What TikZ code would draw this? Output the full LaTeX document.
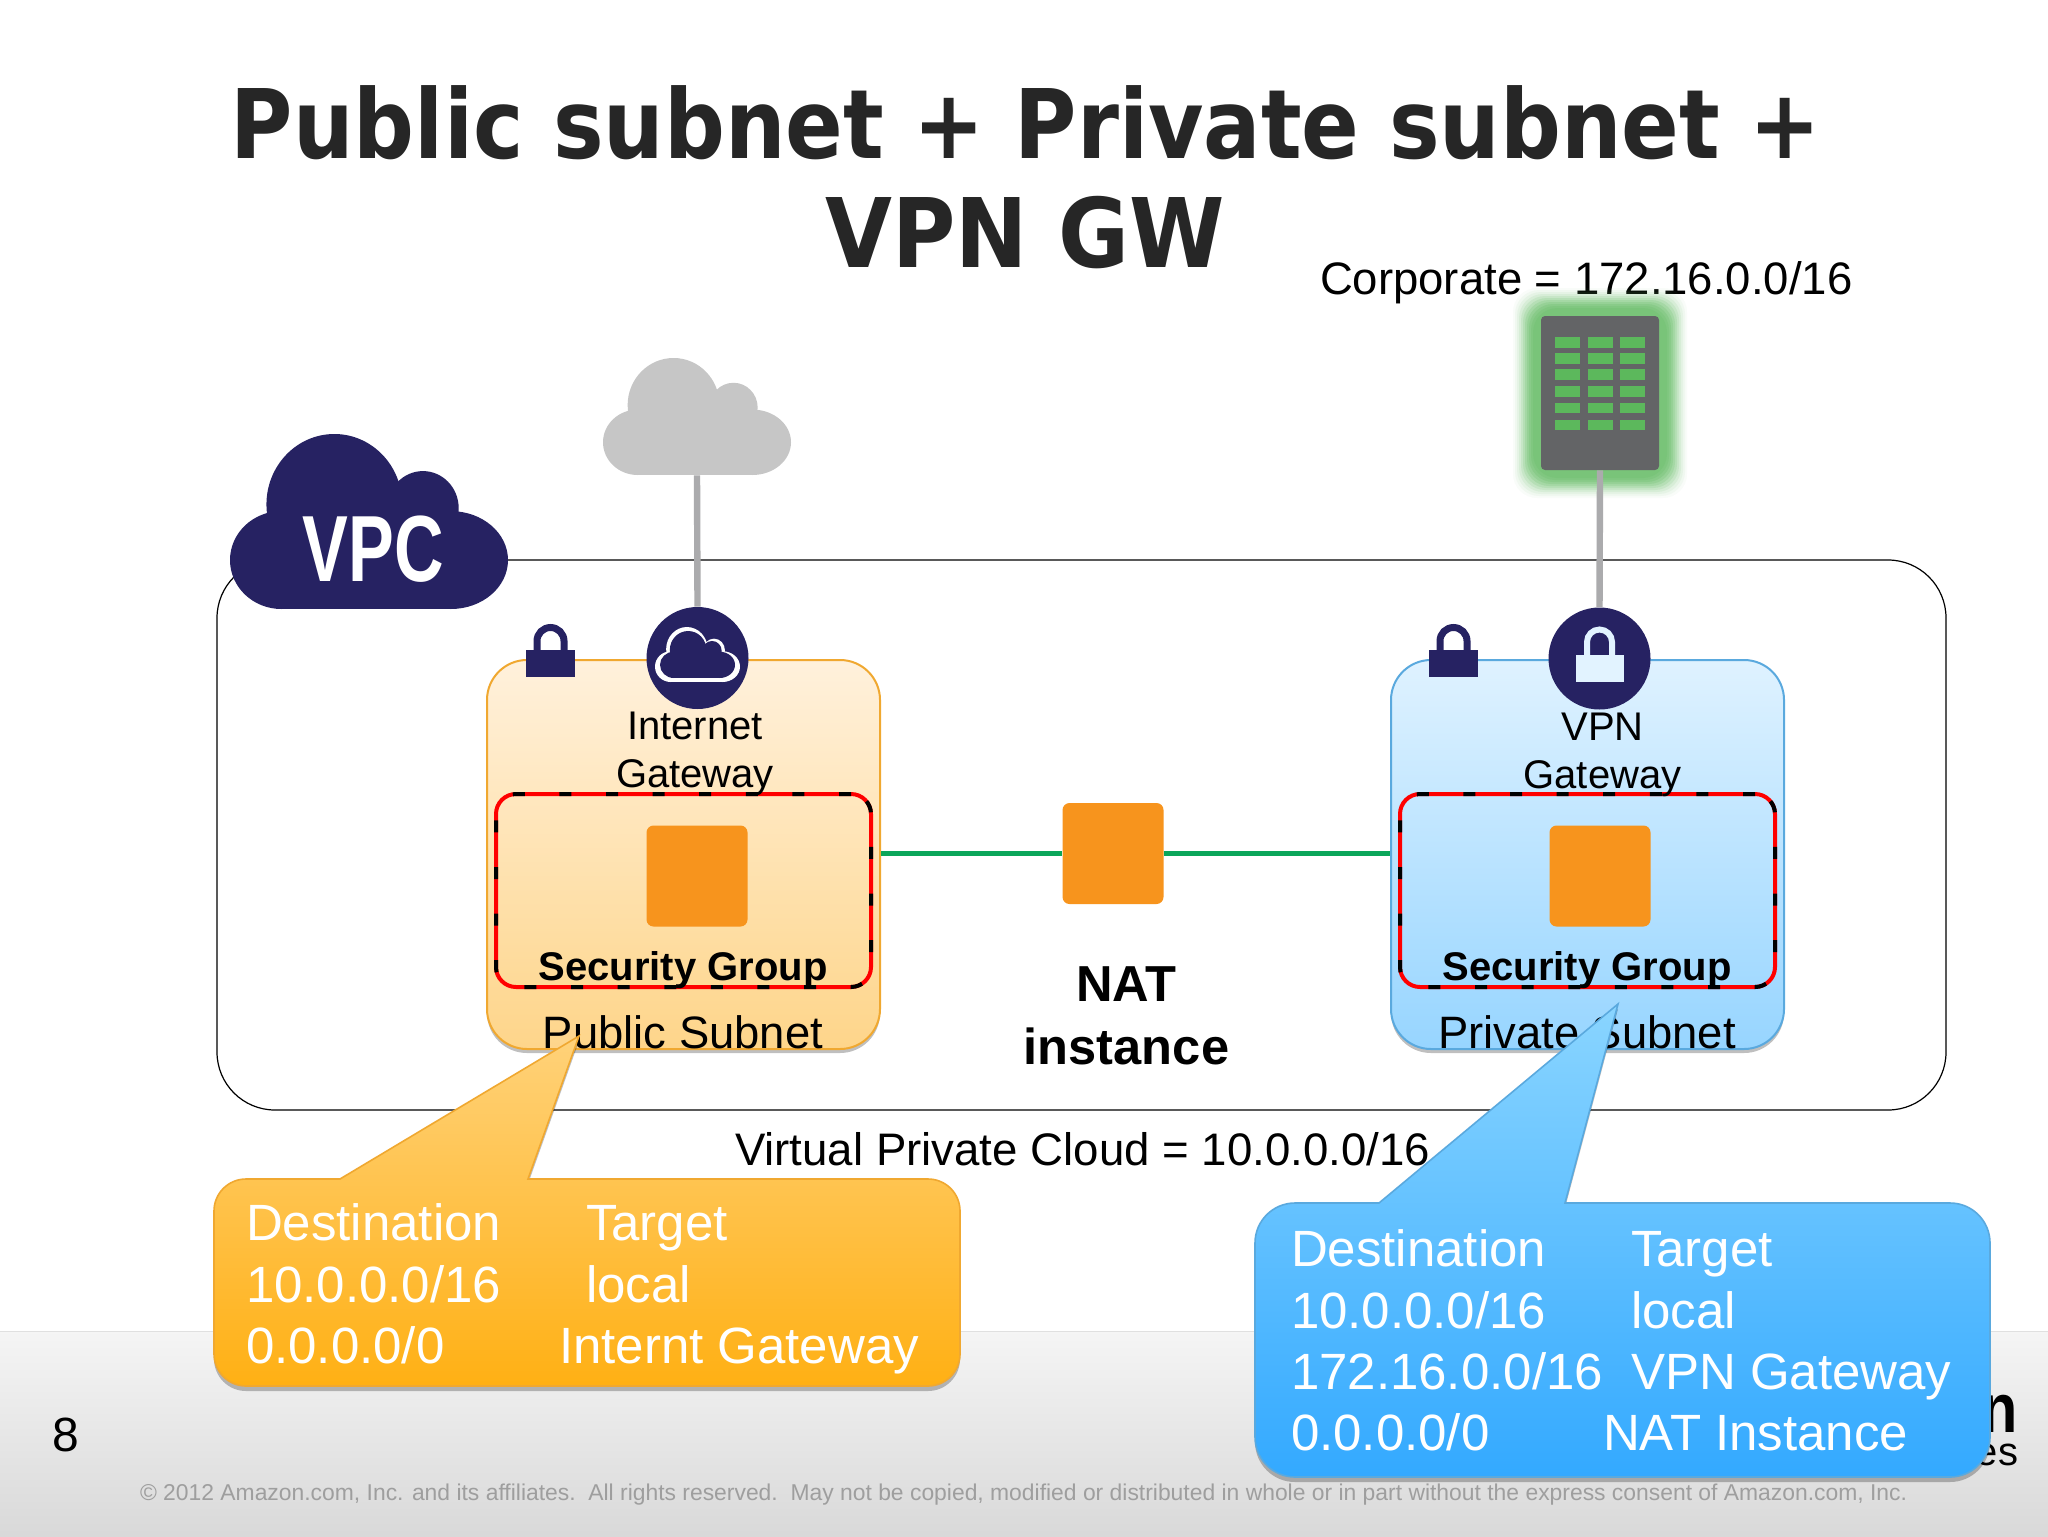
\documentclass[tikz,border=0pt]{standalone}
\usepackage{fontspec}
\usepackage{graphicx}
\usetikzlibrary{shadows}
\setmainfont{Liberation Sans}
\newfontfamily\titlefont{DejaVu Sans}
\definecolor{navy}{HTML}{262262}
\definecolor{inst}{HTML}{F7941D}
\definecolor{greyline}{HTML}{ABABAD}
\definecolor{cloudgrey}{HTML}{C6C6C6}
\definecolor{linkgreen}{HTML}{0BA65A}
\definecolor{led}{HTML}{5CB85C}
\definecolor{glow}{HTML}{6CC06C}
\definecolor{srvgrey}{HTML}{636466}
\definecolor{pubtop}{HTML}{FFF1DC}
\definecolor{pubbot}{HTML}{FED58A}
\definecolor{pubedge}{HTML}{F0A830}
\definecolor{prvtop}{HTML}{DFF2FF}
\definecolor{prvbot}{HTML}{97D5FF}
\definecolor{prvedge}{HTML}{5AA9DE}
\definecolor{ortop}{HTML}{FFD27A}
\definecolor{orbot}{HTML}{FFB014}
\definecolor{bltop}{HTML}{8AD5FF}
\definecolor{blbot}{HTML}{33A9FF}
\definecolor{holec}{HTML}{E2F3FF}
\newcommand{\fs}[1]{\fontsize{#1}{#1}\selectfont}
\newcommand{\mycloud}[5]{%
  \begin{scope}[shift={(#1,#2)},xscale=#3/389,yscale=#4/236]
    \fill[#5] (72,170) ellipse [x radius=72,y radius=66];
    \fill[#5] (146,95) circle [radius=95];
    \fill[#5] (270,100) circle [radius=50];
    \fill[#5] (309,170) ellipse [x radius=80,y radius=66];
    \fill[#5] (72,150) rectangle (309,236);
    \fill[#5] (146,100) rectangle (309,236);
  \end{scope}}
\newcommand{\mylock}[1]{%
  \begin{scope}[shift={(#1,0)}]
    \fill[navy] (-24.5,650) rectangle (24.5,676.5);
    \draw[navy,line width=3.5pt] (-13.5,652) -- (-13.5,641) arc [start angle=180,end angle=360,radius=13.5] -- (13.5,652);
  \end{scope}}
\tikzset{
  lbl/.style={inner sep=0pt,outer sep=0pt,text=black},
  sub/.style={rectangle,rounded corners=20pt,line width=1pt,inner sep=0pt,
    minimum width=196.5pt,minimum height=194.5pt,
    drop shadow={shadow xshift=0pt,shadow yshift=-2pt,opacity=.25,fill=black}},
  sg/.style={rectangle,rounded corners=10pt,draw=red,line width=2pt,inner sep=0pt,
    minimum width=187.5pt,minimum height=96.5pt,
    postaction={draw=black,line width=2pt,dash pattern=on 6pt off 17.3pt}},
  inst/.style={rectangle,rounded corners=3.5pt,fill=inst,inner sep=0pt,minimum size=50.5pt},
  gw/.style={circle,fill=navy,inner sep=0pt,minimum size=51pt},
  wire/.style={draw=greyline,line width=3.2pt},
  link/.style={draw=linkgreen,line width=2.8pt},
  rt/.style={lbl,text=white,anchor=base west,font=\fs{25.5}},
  callout/.style={line width=.8pt,drop shadow={shadow xshift=0pt,shadow yshift=-2.5pt,opacity=.25,fill=black}}
}
\begin{document}
\begin{tikzpicture}[x=0.5pt,y=-0.5pt]
\useasboundingbox (0,0) rectangle (2048,1536);
\fill[white] (0,0) rectangle (2048,1536);
% footer
\shade[top color=black!4,bottom color=black!15] (0,1331) rectangle (2048,1536);
\draw[black!12,line width=.5pt] (0,1331) -- (2048,1331);
\node[lbl,anchor=base] (pg) at (66,1451) {\fs{24}8};
\node[lbl,anchor=base west,text=black!38] (copy) at (140,1500) {\fs{11.44}© 2012 Amazon.com, Inc. and its affiliates.\ \ All rights reserved.\ \ May not be copied, modified or distributed in whole or in part without the express consent of Amazon.com, Inc.};
\node[lbl,anchor=base east] (logoa) at (2018,1432) {\scalebox{.9}[1.05]{\fs{33}\bfseries n}};
\node[lbl,anchor=base east] (logob) at (2018,1465) {\fs{20}es};
% title
\node[lbl,anchor=base,text=black!85] (t1) at (1026,158) {\resizebox{795pt}{\height}{\titlefont\bfseries\fs{48}Public subnet + Private subnet +}};
\node[lbl,anchor=base,text=black!85] (t2) at (1025,267) {\resizebox{199.5pt}{\height}{\titlefont\bfseries\fs{48}VPN GW}};
\node[lbl,anchor=base west] (corp) at (1320,294) {\fs{22.75}Corporate = 172.16.0.0/16};
% vpc box
\node[rectangle,draw=black,line width=.6pt,rounded corners=29pt,inner sep=0pt,minimum width=864.5pt,minimum height=275pt] (vpc) at (1081.5,835) {};
% grey cloud
\mycloud{603}{358}{188}{117}{cloudgrey}
\node[inner sep=0pt,minimum width=94pt,minimum height=58.5pt] (inet) at (697,416.5) {};
% server
\foreach \e/\o in {28/.04,26/.06,24/.08,22/.11,20/.14,18/.18,16/.22,14/.25,12/.3,10/.3,8/.3} {
  \fill[glow,opacity=\o,rounded corners=12pt] (1541-\e,316-\e) rectangle (1659+\e,470+\e);
}
\node[rectangle,rounded corners=2pt,fill=srvgrey,inner sep=0pt,minimum width=59pt,minimum height=77pt] (srv) at (1600,393) {};
\foreach \a/\b in {337/347.5,353/364,369/380,386/396.5,403/413,420/430} {
  \foreach \l in {1554.5,1587.5,1620} {
    \fill[led] (\l,\a) rectangle (\l+25,\b);
  }
}
% subnets
\node[sub,draw=pubedge,top color=pubtop,bottom color=pubbot] (pub) at (683.5,854.5) {};
\node[sub,draw=prvedge,top color=prvtop,bottom color=prvbot] (prv) at (1587.5,854.5) {};
\node[sg] (sg1) at (683.5,890.5) {};
\node[sg] (sg2) at (1587.5,890.5) {};
\node[inst] (i1) at (697,876) {};
\node[inst] (i2) at (1600,876) {};
\node[inst] (nat) at (1113,853.5) {};
% connectors
\draw[link] (pub.east |- nat) -- (nat);
\draw[link] (nat) -- (prv.west |- nat);
\node[gw] (igw) at (697.5,658) {};
\node[gw] (vgw) at (1599.5,658.5) {};
\draw[wire] (inet.south) -- (igw.north);
\draw[wire] (srv.south) -- (vgw.north);
\mycloud{655}{627}{85}{55}{white}
\mycloud{660}{631}{75}{47}{navy}
\fill[holec] (1575.5,655) rectangle (1624,682);
\draw[holec,line width=3pt] (1587,656) -- (1587,642) arc [start angle=180,end angle=360,radius=12.5] -- (1612,656);
\mylock{550.5}
\mylock{1453.5}
% vpc cloud
\mycloud{230}{434}{278}{175}{navy}
\node[lbl,text=white,anchor=base] (vpct) at (373.5,581) {\scalebox{.73}[1]{\fs{47}\bfseries VPC}};
% labels
\node[lbl,anchor=base] (l1) at (695,739) {\fs{20}Internet};
\node[lbl,anchor=base] (l2) at (695,787) {\fs{20}Gateway};
\node[lbl,anchor=base] (l3) at (1602.5,740.5) {\fs{20}VPN};
\node[lbl,anchor=base] (l4) at (1602.5,788) {\fs{20}Gateway};
\node[lbl,anchor=base] (s1) at (683,980) {\fs{20}\bfseries Security Group};
\node[lbl,anchor=base] (s2) at (1587,980) {\fs{20}\bfseries Security Group};
\node[lbl,anchor=base] (p1) at (683,1048) {\fs{22.7}Public Subnet};
\node[lbl,anchor=base] (p2) at (1587,1048) {\fs{22.7}Private Subnet};
\node[lbl,anchor=base] (n1) at (1126.5,1001.5) {\fs{25.3}\bfseries NAT};
\node[lbl,anchor=base] (n2) at (1126.5,1064) {\fs{25.3}\bfseries instance};
\node[lbl,anchor=base west] (cloudlbl) at (735,1165) {\fs{22.8}Virtual Private Cloud = 10.0.0.0/16};
% callouts
\path[callout,draw=pubedge,top color=ortop,bottom color=orbot]
  (214,1280) [rounded corners=16pt] -- (214,1179) [sharp corners] -- (340,1179) -- (579,1036) -- (528,1179) [rounded corners=16pt] -- (960,1179) -- (960,1386) -- (214,1386) -- cycle;
\path[callout,draw=prvedge,top color=bltop,bottom color=blbot]
  (1255,1340) [rounded corners=20pt] -- (1255,1203) [sharp corners] -- (1379,1203) -- (1618,1004) -- (1565,1203) [rounded corners=20pt] -- (1990,1203) -- (1990,1477) -- (1255,1477) -- cycle;
\node[rt] (a1) at (246,1240.5) {Destination};
\node[rt] (a2) at (586,1240.5) {Target};
\node[rt] (a3) at (246,1302) {10.0.0.0/16};
\node[rt] (a4) at (586,1302) {local};
\node[rt] (a5) at (246,1363.5) {0.0.0.0/0};
\node[rt] (a6) at (559,1363.5) {Internt Gateway};
\node[rt] (b1) at (1291,1266.5) {Destination};
\node[rt] (b2) at (1631,1266.5) {Target};
\node[rt] (b3) at (1291,1328.5) {10.0.0.0/16};
\node[rt] (b4) at (1631,1328.5) {local};
\node[rt] (b5) at (1291,1389.5) {172.16.0.0/16};
\node[rt] (b6) at (1631,1389.5) {VPN Gateway};
\node[rt] (b7) at (1291,1450.5) {0.0.0.0/0};
\node[rt] (b8) at (1603,1450.5) {NAT Instance};
\end{tikzpicture}
\end{document}
